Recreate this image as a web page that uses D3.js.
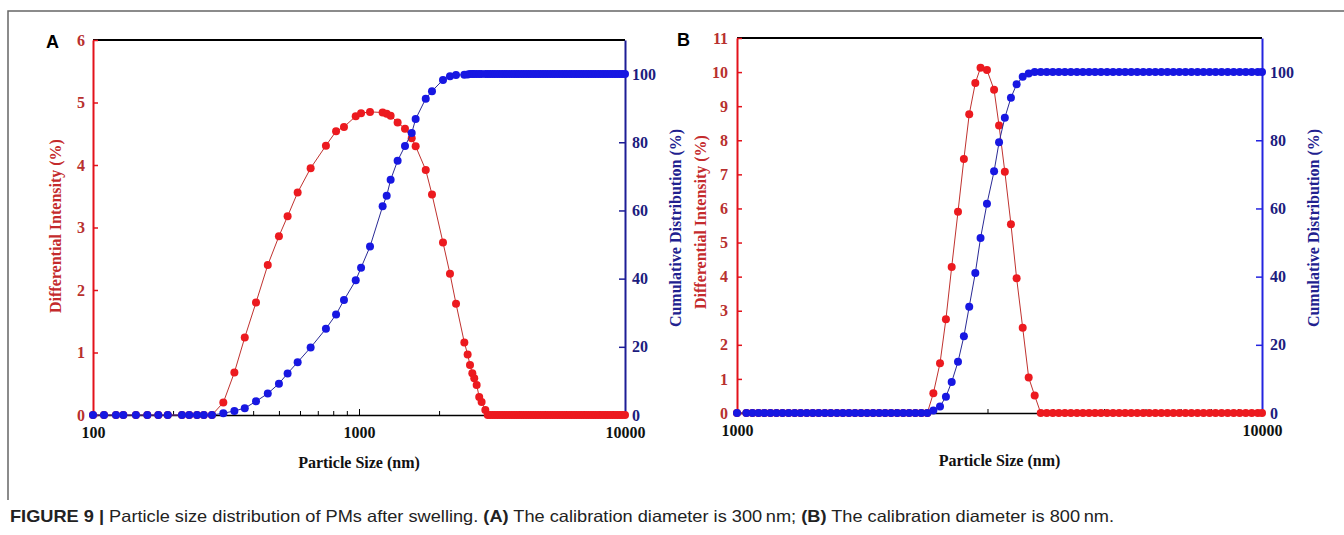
<!DOCTYPE html>
<html>
<head>
<meta charset="utf-8">
<script src="https://cdn.jsdelivr.net/npm/d3@7"></script>
<style>
body { margin: 0; background: #fff; }
svg { display: block; }
.tick text { font-family: "Liberation Serif", "Times New Roman", serif; font-weight: bold; font-size: 16px; }
</style>
</head>
<body>
<div id="chart"></div>
<script>

// ---- panel A : calibration diameter 300 nm ----
var sizesA = [
    100, 110, 122, 130, 145, 160, 176, 191, 216, 230, 246, 261, 280,
    309, 340, 372, 410, 454, 500, 539, 588, 658, 751, 820, 878, 972, 1018, 1100, 1227,
    1271, 1315, 1397, 1489, 1578, 1633, 1782, 1881, 2069, 2198, 2316,
    2489, 2561, 2614, 2667, 2712, 2769, 2831, 2890, 2985,
    3048, 3112, 3177, 3244, 3312, 3382, 3453, 3525, 3599, 3675,
    3752, 3831, 3911, 3993, 4077, 4163, 4250, 4339, 4430, 4523,
    4618, 4715, 4814, 4916, 5019, 5124, 5232, 5342, 5454, 5568,
    5685, 5805, 5927, 6051, 6178, 6308, 6440, 6575, 6714, 6855,
    6998, 7145, 7295, 7449, 7605, 7765, 7928, 8094, 8264, 8438,
    8615, 8796, 8981, 9169, 9362, 9558, 9759, 10000
];
var diffA = [
    0, 0, 0, 0, 0, 0, 0, 0, 0, 0, 0, 0, 0,
    0.20, 0.68, 1.24, 1.80, 2.40, 2.86, 3.18, 3.56, 3.95, 4.31, 4.54, 4.61, 4.78, 4.83, 4.85, 4.84,
    4.82, 4.79, 4.68, 4.58, 4.43, 4.30, 3.92, 3.53, 2.76, 2.26, 1.78,
    1.16, 0.97, 0.80, 0.67, 0.59, 0.48, 0.29, 0.21, 0.08,
    0, 0, 0, 0, 0, 0, 0, 0, 0, 0,
    0, 0, 0, 0, 0, 0, 0, 0, 0, 0,
    0, 0, 0, 0, 0, 0, 0, 0, 0, 0,
    0, 0, 0, 0, 0, 0, 0, 0, 0, 0,
    0, 0, 0, 0, 0, 0, 0, 0, 0, 0,
    0, 0, 0, 0, 0, 0, 0, 0
];
var cumA = [
    0, 0, 0, 0, 0, 0, 0, 0, 0, 0, 0, 0, 0,
    0.5, 1.2, 2.0, 4.0, 6.3, 9.2, 12.2, 15.5, 19.8, 25.3, 29.5, 33.7, 39.5, 43.2, 49.4, 61.2,
    64.3, 69.0, 74.6, 78.9, 82.7, 86.8, 92.8, 95.0, 98.3, 99.4, 99.7,
    99.8, 99.9, 100, 100, 100, 100, 100, 100, 100,
    100, 100, 100, 100, 100, 100, 100, 100, 100, 100,
    100, 100, 100, 100, 100, 100, 100, 100, 100, 100,
    100, 100, 100, 100, 100, 100, 100, 100, 100, 100,
    100, 100, 100, 100, 100, 100, 100, 100, 100, 100,
    100, 100, 100, 100, 100, 100, 100, 100, 100, 100,
    100, 100, 100, 100, 100, 100, 100, 100
];

// ---- panel B : calibration diameter 800 nm ----
var sizesB = [
    1000, 1042, 1070, 1099, 1128, 1158, 1189, 1221, 1254, 1288,
    1322, 1358, 1394, 1431, 1470, 1509, 1550, 1591, 1634, 1678,
    1723, 1769, 1816, 1865, 1915, 1966, 2019, 2073, 2128, 2186,
    2244, 2304,
    2366, 2436, 2500, 2564, 2636, 2705, 2769, 2844, 2910, 2993,
    3088, 3156, 3237, 3325, 3409, 3501, 3594, 3690,
    3789, 3890, 3995, 4102, 4212, 4325, 4441, 4560, 4682, 4807,
    4936, 5068, 5204, 5344, 5487, 5634, 5785, 5940, 6099, 6263,
    6430, 6603, 6780, 6961, 7148, 7339, 7536, 7738, 7946, 8158,
    8377, 8602, 8832, 9069, 9312, 9561, 9818, 10000
];
var diffB = [
    0, 0, 0, 0, 0, 0, 0, 0, 0, 0,
    0, 0, 0, 0, 0, 0, 0, 0, 0, 0,
    0, 0, 0, 0, 0, 0, 0, 0, 0, 0,
    0, 0,
    0.58, 1.46, 2.75, 4.28, 5.90, 7.45, 8.76, 9.68, 10.13, 10.06,
    9.48, 8.43, 7.08, 5.54, 3.95, 2.50, 1.04, 0.51,
    0, 0, 0, 0, 0, 0, 0, 0, 0, 0,
    0, 0, 0, 0, 0, 0, 0, 0, 0, 0,
    0, 0, 0, 0, 0, 0, 0, 0, 0, 0,
    0, 0, 0, 0, 0, 0, 0, 0
];
var cumB = [
    0, 0, 0, 0, 0, 0, 0, 0, 0, 0,
    0, 0, 0, 0, 0, 0, 0, 0, 0, 0,
    0, 0, 0, 0, 0, 0, 0, 0, 0, 0,
    0, 0,
    0.7, 1.9, 4.8, 9.1, 15.0, 22.5, 31.2, 41.1, 51.3, 61.4,
    70.9, 79.4, 86.6, 92.5, 96.4, 98.6, 99.6, 100,
    100, 100, 100, 100, 100, 100, 100, 100, 100, 100,
    100, 100, 100, 100, 100, 100, 100, 100, 100, 100,
    100, 100, 100, 100, 100, 100, 100, 100, 100, 100,
    100, 100, 100, 100, 100, 100, 100, 100
];

// ---- tick labels ----
var xLabelsA = [100, 1000, 10000];
var xMinorA = [200, 300, 400, 500, 600, 700, 800, 900, 2000, 3000, 4000, 5000, 6000, 7000, 8000, 9000];
var xLabelsB = [1000, 10000];
var xMinorB = [2000, 3000, 4000, 5000, 6000, 7000, 8000, 9000];
var yLeftTicksA = [0, 1, 2, 3, 4, 5, 6];
var yLeftTicksB = [0, 1, 2, 3, 4, 5, 6, 7, 8, 9, 10, 11];
var yRightTicks = [0, 20, 40, 60, 80, 100];

var caption = [
    {t: "FIGURE 9 | ", b: true},
    {t: "Particle size distribution of PMs after swelling. ", b: false},
    {t: "(A)", b: true},
    {t: " The calibration diameter is 300\u2009nm; ", b: false},
    {t: "(B)", b: true},
    {t: " The calibration diameter is 800\u2009nm.", b: false}
];

var colors = {
    redDot: "#ec1a1f",
    redLine: "#c0322f",
    redAxis: "#e3121b",
    redText: "#b8302e",
    blueDot: "#1717e2",
    blueLine: "#2a2a96",
    blueAxis: "#1d1d96",
    blueText: "#1c1c7e"
};

[[sizesA, diffA, cumA], [sizesB, diffB, cumB]].forEach(function(s){
    if (s[0].length != s[1].length || s[0].length != s[2].length) {
        throw new Error("length mismatch " + s[0].length + " " + s[1].length + " " + s[2].length);
    }
});


SizePanel = function(svg, opts){

    this.svg = svg;
    this.opts = opts;
    this._init();

};

SizePanel.prototype._init = function(){

    this._build_scales();
    this._draw_axes();
    this._draw_series(this.opts.diff, this.y, colors.redLine, colors.redDot);
    this._draw_series(this.opts.cum, this.yR, colors.blueLine, colors.blueDot);
    this._draw_titles();

};

SizePanel.prototype._build_scales = function(){

    var o = this.opts;

    this.x = d3.scaleLog().domain(o.xDomain).range([o.left, o.right]);
    this.y = d3.scaleLinear().domain([0, o.yMax]).range([o.bottom, o.top]);
    this.yR = d3.scaleLinear().domain([0, 110]).range([o.bottom, o.top]);

};

SizePanel.prototype._draw_axes = function(){

    var o = this.opts;
    var g = this.svg.append("g");
    var intFmt = d3.format("d");

    // top border
    g.append("line")
        .attr("x1", o.left).attr("x2", o.right)
        .attr("y1", o.top).attr("y2", o.top)
        .attr("stroke", "#000").attr("stroke-width", 2);

    // bottom axis, minor ticks first
    var minor = g.append("g")
        .attr("transform", "translate(0," + o.bottom + ")")
        .call(d3.axisBottom(this.x).tickValues(o.xMinor).tickSizeInner(-4).tickSizeOuter(0).tickFormat(""));
    minor.select(".domain").remove();
    minor.selectAll("line").attr("stroke", "#000");

    var xa = g.append("g")
        .attr("transform", "translate(0," + o.bottom + ")")
        .call(d3.axisBottom(this.x).tickValues(o.xLabels).tickSizeInner(-6).tickSizeOuter(0)
            .tickPadding(12).tickFormat(intFmt));
    xa.select(".domain").attr("stroke", "#000").attr("stroke-width", 1.6);
    xa.selectAll("text").attr("fill", "#111");

    // left axis
    var ya = g.append("g")
        .attr("transform", "translate(" + o.left + ",0)")
        .call(d3.axisLeft(this.y).tickValues(o.yTicks).tickSizeInner(-5).tickSizeOuter(0)
            .tickPadding(o.leftPad).tickFormat(intFmt));
    ya.select(".domain").attr("stroke", colors.redAxis).attr("stroke-width", 2);
    ya.selectAll("line").attr("stroke", colors.redAxis).attr("stroke-width", 1.5);
    ya.selectAll("text").attr("fill", colors.redText);

    // right axis
    var yra = g.append("g")
        .attr("transform", "translate(" + o.right + ",0)")
        .call(d3.axisRight(this.yR).tickValues(yRightTicks).tickSizeInner(-6).tickSizeOuter(0)
            .tickPadding(o.rightPad).tickFormat(intFmt));
    yra.select(".domain").attr("stroke", o.rightAxisColor).attr("stroke-width", 2);
    yra.selectAll("line").attr("stroke", o.rightAxisColor).attr("stroke-width", 1.5);
    yra.selectAll("text").attr("fill", colors.blueText);

};

SizePanel.prototype._draw_series = function(values, yScale, lineColor, dotColor){

    var self = this;
    var pts = this.opts.sizes.map(function(s, i){ return {size: s, v: values[i]}; });

    var line = d3.line()
        .x(function(d){ return self.x(d.size); })
        .y(function(d){ return yScale(d.v); });

    this.svg.append("path")
        .datum(pts)
        .attr("d", line)
        .attr("fill", "none")
        .attr("stroke", lineColor)
        .attr("stroke-width", 1);

    this.svg.append("g")
        .selectAll("circle")
        .data(pts)
        .join("circle")
        .attr("cx", function(d){ return self.x(d.size); })
        .attr("cy", function(d){ return yScale(d.v); })
        .attr("r", 4)
        .attr("fill", dotColor);

};

SizePanel.prototype._draw_titles = function(){

    var o = this.opts;
    var serif = "'Liberation Serif', 'Times New Roman', serif";

    this.svg.append("text")
        .attr("x", (o.left + o.right) / 2)
        .attr("y", o.bottom + 53)
        .attr("text-anchor", "middle")
        .attr("font-family", serif)
        .attr("font-weight", "bold")
        .attr("font-size", 16)
        .attr("fill", "#111")
        .text("Particle Size (nm)");

    this.svg.append("text")
        .attr("transform", "translate(" + o.leftTitleX + "," + o.leftTitleY + ") rotate(-90)")
        .attr("text-anchor", "middle")
        .attr("dy", "0.35em")
        .attr("font-family", serif)
        .attr("font-weight", "bold")
        .attr("font-size", 16)
        .attr("fill", "#c42a2c")
        .text("Differential Intensity (%)");

    this.svg.append("text")
        .attr("transform", "translate(" + o.rightTitleX + "," + o.rightTitleY + ") rotate(-90)")
        .attr("text-anchor", "middle")
        .attr("dy", "0.35em")
        .attr("font-family", serif)
        .attr("font-weight", "bold")
        .attr("font-size", 16)
        .attr("fill", "#21218f")
        .text("Cumulative Distribution (%)");

    this.svg.append("text")
        .attr("x", o.labelX)
        .attr("y", o.top + 8)
        .attr("font-family", "'Liberation Sans', Arial, sans-serif")
        .attr("font-weight", "bold")
        .attr("font-size", 18)
        .attr("fill", "#000")
        .text(o.label);

};


var svg = d3.select("#chart")
    .append("svg")
    .attr("width", 1344)
    .attr("height", 535);

// figure frame (top and left only)
svg.append("path")
    .attr("d", "M8,500 V11 H1344")
    .attr("fill", "none")
    .attr("stroke", "#666")
    .attr("stroke-width", 1.5);

new SizePanel(svg, {
    label: "A", labelX: 46,
    sizes: sizesA, diff: diffA, cum: cumA,
    xDomain: [100, 10000], xLabels: xLabelsA, xMinor: xMinorA,
    yMax: 6, yTicks: yLeftTicksA,
    left: 93, right: 625, top: 40, bottom: 415,
    leftPad: 8, rightPad: 7,
    rightAxisColor: colors.blueAxis,
    leftTitleX: 55, leftTitleY: 226,
    rightTitleX: 675, rightTitleY: 228
});

new SizePanel(svg, {
    label: "B", labelX: 677,
    sizes: sizesB, diff: diffB, cum: cumB,
    xDomain: [1000, 10000], xLabels: xLabelsB, xMinor: xMinorB,
    yMax: 11, yTicks: yLeftTicksB,
    left: 737, right: 1262, top: 38, bottom: 413,
    leftPad: 9, rightPad: 8,
    rightAxisColor: "#2424e0",
    leftTitleX: 700, leftTitleY: 222,
    rightTitleX: 1313, rightTitleY: 228
});

// caption (condensed face squeezed to the reference width)
var cap = svg.append("text")
    .attr("x", 10)
    .attr("y", 522)
    .attr("font-family", "'Liberation Sans Narrow', 'Arial Narrow', 'Liberation Sans', sans-serif")
    .attr("font-size", 16.5)
    .attr("fill", "#222")
    .attr("textLength", 1104)
    .attr("lengthAdjust", "spacingAndGlyphs");

cap.selectAll("tspan")
    .data(caption)
    .join("tspan")
    .attr("font-weight", function(d){ return d.b ? "bold" : "normal"; })
    .text(function(d){ return d.t; });

</script>
</body>
</html>
